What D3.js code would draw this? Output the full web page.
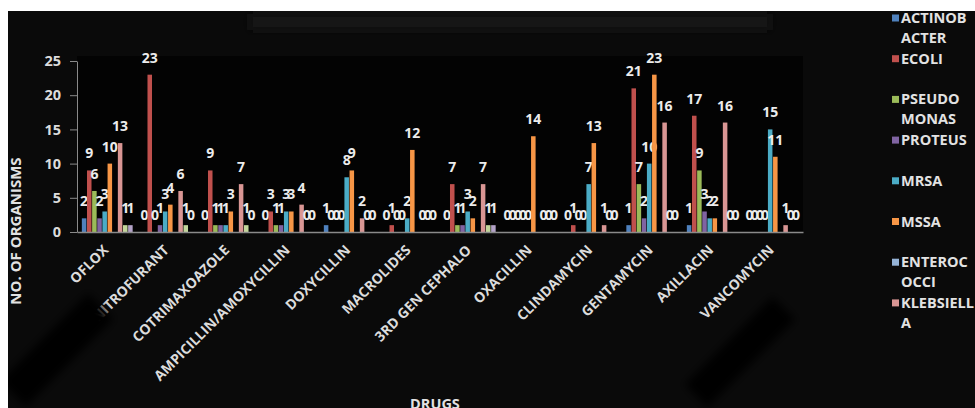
<!DOCTYPE html>
<html>
<head>
<meta charset="utf-8">
<script src="https://cdn.jsdelivr.net/npm/d3@7"></script>
<style>
  html, body { margin: 0; padding: 0; background: #ffffff; }
  svg { display: block; }
  text { font-family: "Open Sans", "Noto Sans", sans-serif; font-weight: 700; }
</style>
</head>
<body>
<svg id="chart" width="975" height="408"></svg>
<script>
// Drug groups along the x axis
const drugs = ["OFLOX", "NITROFURANT", "COTRIMAXOAZOLE", "AMPICILLIN/AMOXYCILLIN", "DOXYCILLIN",
  "MACROLIDES", "3RD GEN CEPHALO", "OXACILLIN", "CLINDAMYCIN", "GENTAMYCIN", "AXILLACIN", "VANCOMYCIN"];

// Organism series (the last two fall below the legend's visible area)
const organisms = ["ACTINOBACTER", "ECOLI", "PSEUDOMONAS", "PROTEUS", "MRSA", "MSSA",
  "ENTEROCOCCI", "KLEBSIELLA", "SERIES 9", "SERIES 10"];

// Number of organisms per drug, one array per organism (null = no entry)
const actinobacter = [2, 0, 0, 0, 1, 0, 0, 0, 0, 1, 1, 0];
const ecoli        = [9, 23, 9, 3, 0, 1, 7, 0, 1, 21, 17, 0];
const pseudomonas  = [6, 0, 1, 1, 0, 0, 1, 0, 0, 7, 9, 0];
const proteus      = [2, 1, 1, 1, 0, 0, 1, 0, 0, 2, 3, 0];
const mrsa         = [3, 3, 1, 3, 8, 2, 3, 0, 7, 10, 2, 15];
const mssa         = [10, 4, 3, 3, 9, 12, 2, 14, 13, 23, 2, 11];
const enterococci  = [null, null, null, null, null, null, null, null, null, null, null, null];
const klebsiella   = [13, 6, 7, 4, 2, 0, 7, 0, 1, 16, 16, 1];
const series9      = [1, 1, 1, 0, 0, 0, 1, 0, 0, 0, 0, 0];
const series10     = [1, 0, 0, 0, 0, 0, 1, 0, 0, 0, 0, 0];

const seriesValues = [actinobacter, ecoli, pseudomonas, proteus, mrsa, mssa,
  enterococci, klebsiella, series9, series10];

const seriesColors = ["#4f81bd", "#c0504d", "#9bbb59", "#8064a2", "#4bacc6", "#f79646",
  "#95b3d7", "#d99694", "#c3d69b", "#b3a2c7"];

// Legend entries as they wrap in the narrow legend column
const legendLines = [["ACTINOB", "ACTER"], ["ECOLI"], ["PSEUDO", "MONAS"], ["PROTEUS"],
  ["MRSA"], ["MSSA"], ["ENTEROC", "OCCI"], ["KLEBSIELL", "A"]];

const yTicks = [0, 5, 10, 15, 20, 25];

const svg = d3.select("#chart");
const W = 975, H = 408;
const plot = { left: 77, right: 803, top: 61, bottom: 232 };

// Dark chart area inside a thin white frame
svg.append("rect").attr("x", 8).attr("y", 11).attr("width", W - 8).attr("height", H - 11)
  .attr("fill", "#0a0a0a");

const defs = svg.append("defs");
defs.append("filter").attr("id", "soft").attr("x", "-30%").attr("y", "-30%")
  .attr("width", "160%").attr("height", "160%")
  .append("feGaussianBlur").attr("stdDeviation", 4);
defs.append("clipPath").attr("id", "area")
  .append("rect").attr("x", 8).attr("y", 11).attr("width", W - 8).attr("height", H - 11);

const backdrop = svg.append("g").attr("clip-path", "url(#area)");
// faint smudge along the top edge
backdrop.append("rect").attr("x", 250).attr("y", 14).attr("width", 520).attr("height", 16)
  .attr("fill", "#131313").attr("filter", "url(#soft)");
// plot area
backdrop.append("rect").attr("x", plot.left).attr("y", plot.top - 5)
  .attr("width", plot.right - plot.left).attr("height", plot.bottom - plot.top + 5)
  .attr("fill", "#030303");

const x0 = d3.scaleBand().domain(drugs).range([plot.left, plot.right]).padding(0);
const x1 = d3.scaleBand().domain(d3.range(organisms.length))
  .range([x0.bandwidth() * 0.08, x0.bandwidth() * 0.92]).paddingInner(0.12);
const y = d3.scaleLinear().domain([0, 25]).range([plot.bottom, plot.top]);

// bars
const groups = svg.append("g").selectAll("g").data(drugs).join("g")
  .attr("transform", d => `translate(${x0(d)},0)`);

const cells = groups.selectAll("g.cell")
  .data((d, i) => seriesValues.map((vals, s) => ({ s, v: vals[i] })).filter(c => c.v !== null))
  .join("g").attr("class", "cell");

cells.append("rect")
  .attr("x", c => x1(c.s))
  .attr("width", x1.bandwidth())
  .attr("y", c => y(c.v))
  .attr("height", c => y(0) - y(c.v))
  .attr("fill", c => seriesColors[c.s]);

cells.append("text")
  .attr("x", c => x1(c.s) + x1.bandwidth() / 2)
  .attr("y", c => y(c.v) - 12)
  .attr("text-anchor", "middle")
  .attr("font-size", 14)
  .attr("fill", "#ececec")
  .text(c => c.v);

// y axis
const yAxis = svg.append("g").attr("transform", `translate(${plot.left},0)`)
  .call(d3.axisLeft(y).tickValues(yTicks).tickSize(7).tickPadding(9).tickSizeOuter(0));
yAxis.select(".domain").attr("stroke", "#8a8a8a");
yAxis.selectAll(".tick line").attr("stroke", "#8a8a8a");
yAxis.selectAll(".tick text").attr("fill", "#dcdcdc").attr("font-size", 14.5)
  .attr("font-family", "'Open Sans', sans-serif").attr("font-weight", 700);

// x axis baseline
const xAxis = svg.append("g").attr("transform", `translate(0,${plot.bottom})`)
  .call(d3.axisBottom(x0).tickSize(0).tickFormat(""));
xAxis.select(".domain").attr("stroke", "#8a8a8a").attr("stroke-width", 1.5);

// rotated drug labels
svg.append("g").selectAll("text").data(drugs).join("text")
  .attr("transform", d => `translate(${x0(d) + x0.bandwidth() / 2 + 2},${plot.bottom + 19}) rotate(-45)`)
  .attr("text-anchor", "end")
  .attr("font-size", 14)
  .attr("fill", "#dcdcdc")
  .text(d => d);

// axis titles
svg.append("text")
  .attr("transform", `translate(21,231) rotate(-90)`)
  .attr("text-anchor", "middle").attr("font-size", 15).attr("fill", "#e2e2e2")
  .text("NO. OF ORGANISMS");
svg.append("text")
  .attr("x", 435).attr("y", 409)
  .attr("text-anchor", "middle").attr("font-size", 14.5).attr("fill", "#e2e2e2")
  .text("DRUGS");

// legend
const legend = svg.append("g").selectAll("g").data(legendLines).join("g")
  .attr("transform", (d, i) => `translate(892,${18 + i * 40.7})`);
legend.append("rect").attr("x", 0).attr("y", -3.5).attr("width", 7).attr("height", 7)
  .attr("fill", (d, i) => seriesColors[i]);
legend.selectAll("text").data(d => d).join("text")
  .attr("x", 9).attr("y", (d, j) => j * 20 + 5)
  .attr("font-size", 14.5).attr("fill", "#e2e2e2")
  .text(d => d);

// dark overlapping patches in the lower part of the chart
const patches = svg.append("g").attr("clip-path", "url(#area)");
patches.append("rect").attr("x", -62).attr("y", -18).attr("width", 124).attr("height", 36)
  .attr("transform", "translate(57,350) rotate(-45)")
  .attr("fill", "#000").attr("filter", "url(#soft)");
patches.append("rect").attr("x", -62).attr("y", -16).attr("width", 124).attr("height", 32)
  .attr("transform", "translate(740,352) rotate(-45)")
  .attr("fill", "#000").attr("filter", "url(#soft)");
</script>
</body>
</html>
